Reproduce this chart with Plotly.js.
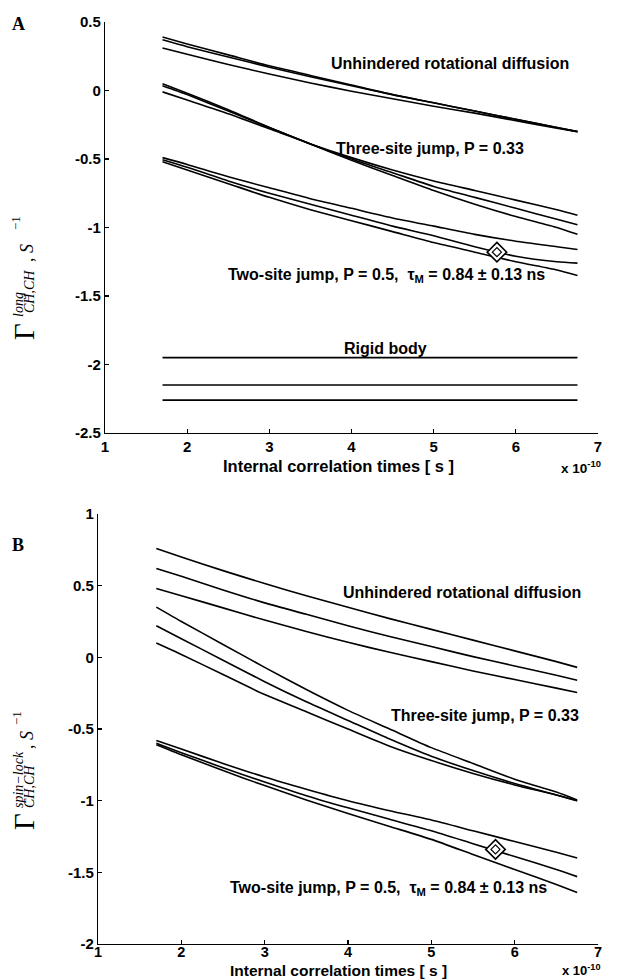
<!DOCTYPE html>
<html>
<head>
<meta charset="utf-8">
<script src="https://cdn.plot.ly/plotly-3.0.1.min.js"></script>
<style>html,body{margin:0;padding:0;background:#fff;}#chart{width:630px;height:979px;}</style>
</head>
<body>
<div id="chart"></div>
<script>
// x values, in units of 1e-10 s
const tauX = [1.7, 2, 2.5, 3, 3.5, 4, 4.5, 5, 5.5, 6, 6.5, 6.75];

// Panel A: longitudinal cross-correlation rates
const longUnhindered1 = [0.39, 0.34, 0.26, 0.18, 0.11, 0.04, -0.03, -0.09, -0.15, -0.21, -0.27, -0.30];
const longUnhindered2 = [0.37, 0.32, 0.245, 0.17, 0.10, 0.035, -0.03, -0.09, -0.15, -0.21, -0.27, -0.30];
const longUnhindered3 = [0.31, 0.265, 0.19, 0.12, 0.055, -0.005, -0.06, -0.115, -0.165, -0.22, -0.275, -0.30];
const longThree1 = [-0.01, -0.07, -0.17, -0.28, -0.39, -0.49, -0.58, -0.66, -0.73, -0.80, -0.87, -0.91];
const longThree2 = [0.035, -0.03, -0.15, -0.27, -0.39, -0.50, -0.60, -0.70, -0.78, -0.86, -0.94, -0.98];
const longThree3 = [0.05, -0.02, -0.14, -0.27, -0.39, -0.51, -0.62, -0.73, -0.83, -0.92, -1.00, -1.05];
const longTwo1 = [-0.49, -0.54, -0.63, -0.71, -0.79, -0.86, -0.93, -0.99, -1.05, -1.10, -1.14, -1.16];
const longTwo2 = [-0.505, -0.56, -0.66, -0.75, -0.83, -0.91, -0.99, -1.06, -1.14, -1.21, -1.25, -1.26];
const longTwo3 = [-0.52, -0.58, -0.68, -0.78, -0.87, -0.95, -1.03, -1.11, -1.18, -1.25, -1.31, -1.35];
const longRigid = [-1.95, -2.15, -2.26];
const longMarker = {x: 5.77, y: -1.18};

// Panel B: spin-lock cross-correlation rates
const slUnhindered1 = [0.76, 0.70, 0.605, 0.515, 0.43, 0.35, 0.27, 0.195, 0.12, 0.045, -0.03, -0.07];
const slUnhindered2 = [0.62, 0.565, 0.47, 0.38, 0.30, 0.22, 0.145, 0.075, 0.005, -0.06, -0.125, -0.16];
const slUnhindered3 = [0.48, 0.43, 0.345, 0.26, 0.18, 0.105, 0.035, -0.03, -0.095, -0.155, -0.215, -0.245];
const slThree1 = [0.35, 0.25, 0.09, -0.07, -0.225, -0.37, -0.50, -0.63, -0.74, -0.85, -0.94, -0.995];
const slThree2 = [0.22, 0.13, -0.02, -0.17, -0.31, -0.44, -0.57, -0.69, -0.79, -0.88, -0.96, -1.0];
const slThree3 = [0.10, 0.02, -0.12, -0.26, -0.38, -0.50, -0.62, -0.72, -0.81, -0.89, -0.96, -1.0];
const slTwo1 = [-0.58, -0.64, -0.74, -0.835, -0.92, -1.0, -1.07, -1.135, -1.21, -1.285, -1.36, -1.40];
const slTwo2 = [-0.60, -0.665, -0.77, -0.87, -0.965, -1.05, -1.13, -1.21, -1.30, -1.39, -1.48, -1.53];
const slTwo3 = [-0.61, -0.68, -0.79, -0.895, -0.995, -1.09, -1.18, -1.27, -1.375, -1.48, -1.585, -1.64];
const slMarker = {x: 5.77, y: -1.34};

const xTicks = [1, 2, 3, 4, 5, 6, 7];
const yTicksA = [-2.5, -2, -1.5, -1, -0.5, 0, 0.5];
const yTicksB = [-2, -1.5, -1, -0.5, 0, 0.5, 1];

const W = 630, H = 979;
const px = v => v / W;
const py = v => 1 - v / H;

const lineStyle = {color: '#000', width: 1.6, shape: 'spline', smoothing: 0.6};
const traces = [];
function addCurve(y, xa, ya) {
  traces.push({x: tauX, y: y, xaxis: xa, yaxis: ya, type: 'scatter', mode: 'lines', line: lineStyle, hoverinfo: 'skip', showlegend: false});
}
[longUnhindered1, longUnhindered2, longUnhindered3, longThree1, longThree2, longThree3, longTwo1, longTwo2, longTwo3].forEach(s => addCurve(s, 'x', 'y'));
longRigid.forEach(v => traces.push({x: [tauX[0], tauX[tauX.length - 1]], y: [v, v], xaxis: 'x', yaxis: 'y', type: 'scatter', mode: 'lines', line: {color: '#000', width: 1.6}, showlegend: false}));
[slUnhindered1, slUnhindered2, slUnhindered3, slThree1, slThree2, slThree3, slTwo1, slTwo2, slTwo3].forEach(s => addCurve(s, 'x2', 'y2'));

function addMarker(m, xa, ya) {
  traces.push({x: [m.x], y: [m.y], xaxis: xa, yaxis: ya, type: 'scatter', mode: 'markers',
    marker: {symbol: 'diamond', size: 15, color: '#fff', line: {color: '#000', width: 1.6}}, showlegend: false});
  traces.push({x: [m.x], y: [m.y], xaxis: xa, yaxis: ya, type: 'scatter', mode: 'markers',
    marker: {symbol: 'diamond-open', size: 7, color: '#000', line: {color: '#000', width: 1.2}}, showlegend: false});
}
addMarker(longMarker, 'x', 'y');
addMarker(slMarker, 'x2', 'y2');

const sans = 'Liberation Sans, Arial, sans-serif';
const tickFont = {family: sans, size: 15, color: '#000'};
const bold = v => '<b>' + v + '</b>';
function xAxis(domain, anchor, standoff, size) {
  return {domain: domain, anchor: anchor, range: [1, 7], tickvals: xTicks, ticktext: xTicks.map(bold),
    showline: true, linecolor: '#000', linewidth: 1.2, ticks: 'inside', ticklen: 4, tickcolor: '#000', tickwidth: 1.2,
    showgrid: false, zeroline: false, tickfont: {family: sans, size: size, color: '#000'}, fixedrange: true, ticklabelstandoff: standoff};
}
function yAxis(domain, anchor, range, ticks) {
  return {domain: domain, anchor: anchor, range: range, tickvals: ticks, ticktext: ticks.map(bold),
    showline: true, linecolor: '#000', linewidth: 1.2, ticks: 'inside', ticklen: 4, tickcolor: '#000', tickwidth: 1.2,
    showgrid: false, zeroline: false, tickfont: tickFont, fixedrange: true};
}

const annFont = {family: sans, size: 16, color: '#000'};
const serif = 'Liberation Serif, Times New Roman, serif';
function dataText(text, x, y, xa, ya) {
  return {text: bold(text), x: x, y: y, xref: xa, yref: ya, showarrow: false, font: annFont, xanchor: 'center', yanchor: 'middle'};
}
function paperText(text, x, y, font, angle) {
  return {text: text, x: px(x), y: py(y), xref: 'paper', yref: 'paper', showarrow: false, font: font,
    xanchor: 'center', yanchor: 'middle', textangle: angle || 0};
}
function yLabel(sup, supCenter, gammaY, subY, sY, m1Y) {
  return [
    paperText('Γ', 24, gammaY, {family: serif, size: 29, color: '#000'}, -90),
    paperText('<i>' + sup + '</i>', 18, supCenter, {family: serif, size: 14, color: '#000'}, -90),
    paperText('<i>CH,CH</i>', 29, subY, {family: serif, size: 14, color: '#000'}, -90),
    paperText(', <i>S</i>', 27, sY, {family: serif, size: 18, color: '#000'}, -90),
    paperText('−1', 16, m1Y, {family: serif, size: 13, color: '#000'}, -90)
  ];
}

const axisTitle = 'Internal correlation times [ s ]';
const annotations = [
  dataText('Unhindered rotational diffusion', 5.20, 0.20, 'x', 'y'),
  dataText('Three-site jump, P = 0.33', 4.96, -0.42, 'x', 'y'),
  dataText('Two-site jump, P = 0.5,  τ<sub>M</sub> = 0.84 ± 0.13 ns', 4.43, -1.35, 'x', 'y'),
  dataText('Rigid body', 4.41, -1.885, 'x', 'y'),
  dataText('Unhindered rotational diffusion', 5.37, 0.45, 'x2', 'y2'),
  dataText('Three-site jump, P = 0.33', 5.64, -0.405, 'x2', 'y2'),
  dataText('Two-site jump, P = 0.5,  τ<sub>M</sub> = 0.84 ± 0.13 ns', 4.49, -1.615, 'x2', 'y2'),
  paperText(bold(axisTitle), 338, 466, {family: sans, size: 16.5, color: '#000'}),
  paperText(bold(axisTitle), 338, 970, {family: sans, size: 15.5, color: '#000'}),
  paperText(bold('x 10<sup>-10</sup>'), 581, 467, {family: sans, size: 13.5, color: '#000'}),
  paperText(bold('x 10<sup>-10</sup>'), 581, 970, {family: sans, size: 13, color: '#000'}),
  paperText(bold('A'), 18, 24, {family: serif, size: 18, color: '#000'}),
  paperText(bold('B'), 18, 545, {family: serif, size: 18, color: '#000'})
].concat(yLabel('long', 305, 332, 292, 253, 223))
 .concat(yLabel('spin−lock', 780, 822, 787, 740, 718));

const layout = {
  width: W, height: H, autosize: false,
  margin: {l: 0, r: 0, t: 0, b: 0, pad: 0},
  paper_bgcolor: '#fff', plot_bgcolor: '#fff',
  showlegend: false,
  xaxis: xAxis([px(105), px(598)], 'y', 0, 15),
  yaxis: yAxis([py(433), py(22)], 'x', [-2.5, 0.5], yTicksA),
  xaxis2: xAxis([px(98), px(598)], 'y2', -6, 14.5),
  yaxis2: yAxis([py(944), py(514)], 'x2', [-2, 1], yTicksB),
  annotations: annotations
};

Plotly.newPlot('chart', traces, layout, {staticPlot: true, displayModeBar: false});
</script>
</body>
</html>
